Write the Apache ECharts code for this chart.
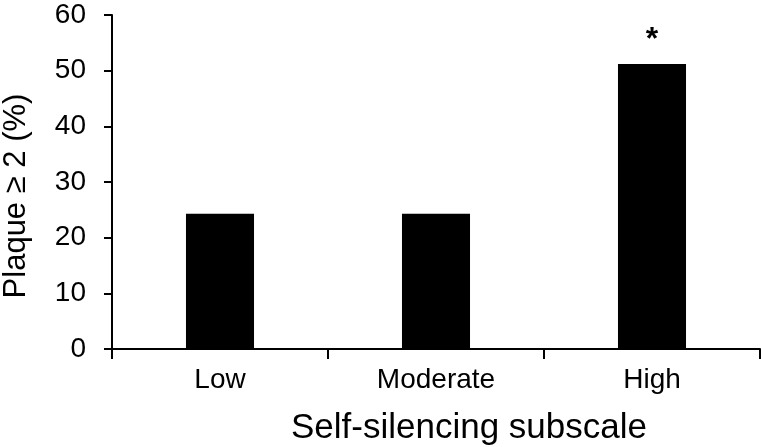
<!DOCTYPE html>
<html>
<head>
<meta charset="utf-8">
<script src="https://cdn.jsdelivr.net/npm/echarts@6/dist/echarts.min.js"></script>
<style>
html,body{margin:0;padding:0;background:#fff;}
#chart{width:761px;height:447px;}
</style>
</head>
<body>
<div id="chart"></div>
<script>
const categories = ['Low', 'Moderate', 'High'];
const plaqueValues = [24.3, 24.3, 51.2];
const significance = ['', '', '*'];
const yTicks = [0, 10, 20, 30, 40, 50, 60];

const FONT = 'Liberation Sans, Arial, sans-serif';
const chart = echarts.init(document.getElementById('chart'), null, {renderer: 'canvas'});
chart.setOption({
  animation: false,
  backgroundColor: '#ffffff',
  grid: {left: 112, top: 15, right: 1, height: 334, containLabel: false, outerBoundsMode: 'none'},
  xAxis: {
    type: 'category',
    data: categories,
    boundaryGap: true,
    name: 'Self-silencing subscale',
    nameLocation: 'middle',
    nameGap: 62,
    nameTextStyle: {fontFamily: FONT, fontSize: 35, color: '#000', padding: [0, 0, 0, 66]},
    axisLine: {show: true, lineStyle: {color: '#000', width: 2}},
    axisTick: {show: true, alignWithLabel: false, length: 10, lineStyle: {color: '#000', width: 2}},
    axisLabel: {fontFamily: FONT, fontSize: 28, color: '#000', margin: 17}
  },
  yAxis: {
    type: 'value',
    min: yTicks[0],
    max: yTicks[yTicks.length - 1],
    interval: yTicks[1] - yTicks[0],
    name: 'Plaque \u2265 2 (%)',
    nameLocation: 'middle',
    nameGap: 80,
    nameRotate: 90,
    nameTextStyle: {fontFamily: FONT, fontSize: 31, color: '#000', padding: [0, 28, 0, 0]},
    axisLine: {show: true, lineStyle: {color: '#000', width: 2}},
    axisTick: {show: true, length: 8, lineStyle: {color: '#000', width: 2}},
    axisLabel: {fontFamily: FONT, fontSize: 28, color: '#000', margin: 26},
    splitLine: {show: false}
  },
  series: [{
    type: 'bar',
    data: plaqueValues.map((v, i) => ({
      value: v,
      label: {
        show: significance[i] !== '',
        formatter: () => significance[i]
      }
    })),
    barWidth: '31.5%',
    itemStyle: {color: '#000', borderColor: '#000', borderWidth: 0},
    label: {position: 'top', distance: 8, fontFamily: FONT, fontSize: 32, fontWeight: 'bold', color: '#000'}
  }]
});
</script>
</body>
</html>
